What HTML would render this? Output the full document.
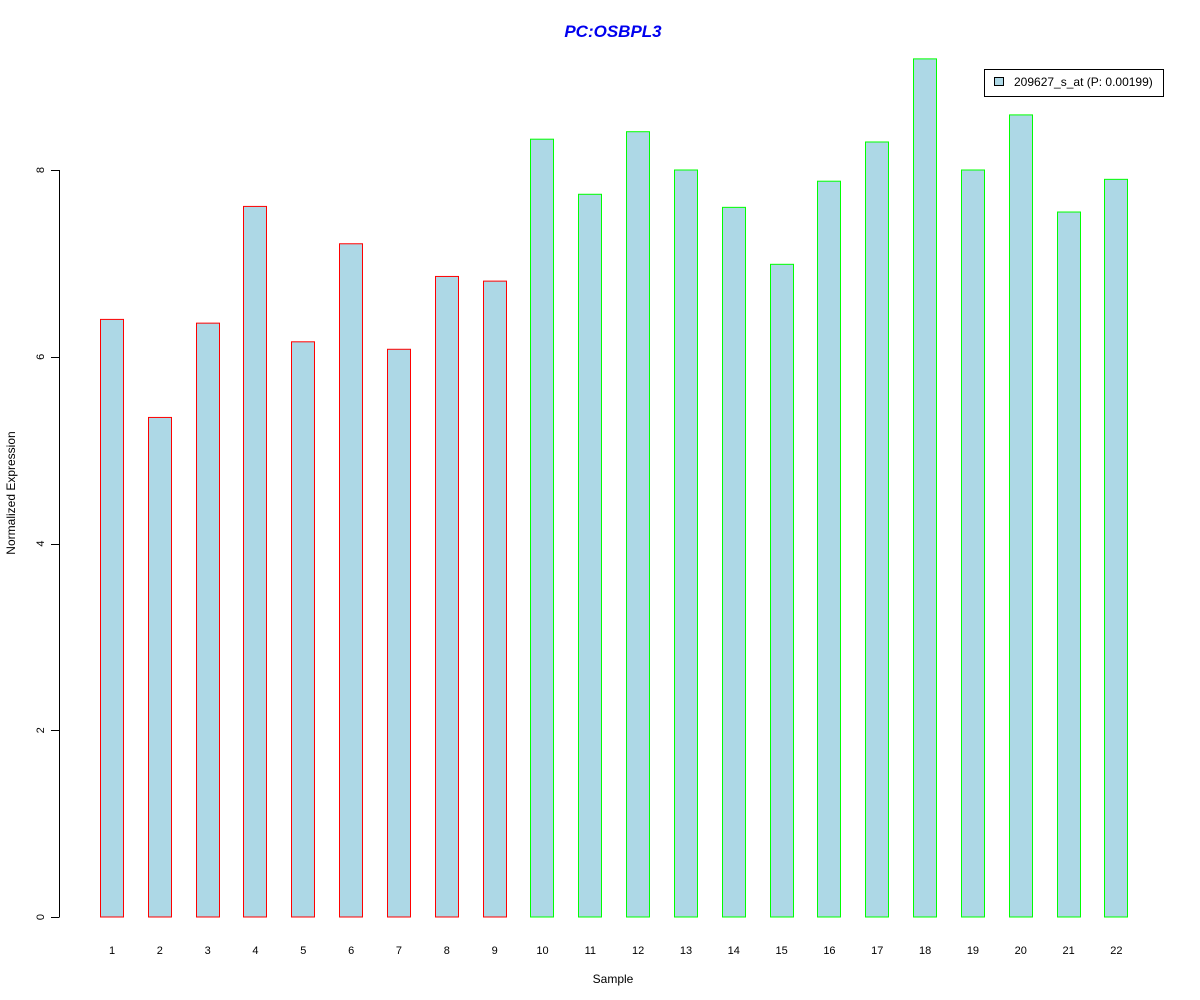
<!DOCTYPE html>
<html><head><meta charset="utf-8"><style>body{margin:0;background:#fff}svg{display:block;font-family:"Liberation Sans",Arial,sans-serif}</style></head>
<body>
<svg id="chart" width="1200" height="1000" xmlns="http://www.w3.org/2000/svg">
<rect width="1200" height="1000" fill="#fff"/>
<text x="613" y="37" text-anchor="middle" font-size="17" font-weight="bold" font-style="italic" fill="#0000ee">PC:OSBPL3</text>
<text x="613" y="983" text-anchor="middle" font-size="12">Sample</text>
<text transform="translate(15,493) rotate(-90)" text-anchor="middle" font-size="12">Normalized Expression</text>
<g id="yaxis"></g>
<g id="bars"></g>
<g id="xlabels"></g>
<g>
<rect x="984.5" y="69.5" width="179" height="27" fill="#fff" stroke="#000"/>
<rect x="994.5" y="77.5" width="9" height="8" fill="#add8e6" stroke="#000"/>
<text x="1014" y="86" font-size="12">209627_s_at (P: 0.00199)</text>
</g>
</svg>
<script>
const categories=["1","2","3","4","5","6","7","8","9","10","11","12","13","14","15","16","17","18","19","20","21","22"];
const values=[6.40,5.35,6.36,7.61,6.16,7.21,6.08,6.86,6.81,8.33,7.74,8.41,8.0,7.60,6.99,7.88,8.30,9.19,8.0,8.59,7.55,7.90];
const groups=["red","red","red","red","red","red","red","red","red","green","green","green","green","green","green","green","green","green","green","green","green","green"];
const yTicks=[0,2,4,6,8];
const NS="http://www.w3.org/2000/svg";
const y0=917,pxPer=(917-170)/8;
function yS(v){return y0-v*pxPer;}
function xS(i){return 112+i*47.83;}
const colorMap={red:"#ff0000",green:"#00ff00"};
const bars=document.getElementById('bars'),xl=document.getElementById('xlabels'),ya=document.getElementById('yaxis');
values.forEach((v,i)=>{
 const r=document.createElementNS(NS,'rect');
 
 
 r.setAttribute('x',Math.round(xS(i)-12)+0.5);r.setAttribute('y',yS(v));
 r.setAttribute('width',23);r.setAttribute('height',y0-yS(v));
 r.setAttribute('fill','#add8e6');r.setAttribute('stroke',colorMap[groups[i]]);
 bars.appendChild(r);
 const t=document.createElementNS(NS,'text');
 
 
 t.setAttribute('x',xS(i));t.setAttribute('y',954);t.setAttribute('text-anchor','middle');t.setAttribute('font-size','11');
 t.textContent=categories[i];xl.appendChild(t);
});
const ax=document.createElementNS(NS,'line');


ax.setAttribute('x1',59.5);ax.setAttribute('x2',59.5);ax.setAttribute('y1',yS(8));ax.setAttribute('y2',y0);ax.setAttribute('stroke','#000');
ya.appendChild(ax);
yTicks.forEach(v=>{
 const l=document.createElementNS(NS,'line');
 
 
 l.setAttribute('x1',51);l.setAttribute('x2',59.5);l.setAttribute('y1',Math.round(yS(v))+0.5);l.setAttribute('y2',Math.round(yS(v))+0.5);l.setAttribute('stroke','#000');
 ya.appendChild(l);
 const t=document.createElementNS(NS,'text');
 
 
 t.setAttribute('transform','translate(44,'+yS(v)+') rotate(-90)');t.setAttribute('text-anchor','middle');t.setAttribute('font-size','11');
 t.textContent=v;ya.appendChild(t);
});
</script>
</body></html>
